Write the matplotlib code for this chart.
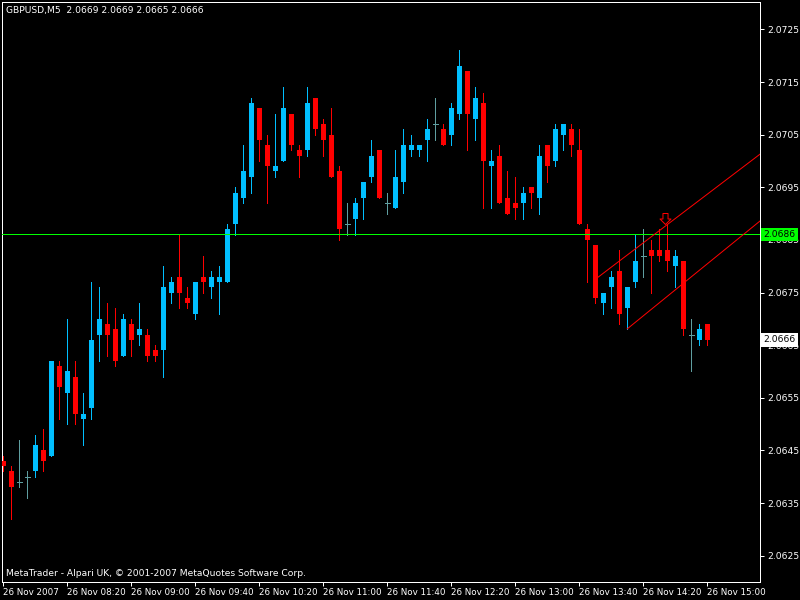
import matplotlib
matplotlib.use("Agg")
import matplotlib.pyplot as plt
import matplotlib.transforms as mtransforms
from matplotlib.path import Path
import numpy as np

# ---------------- data ----------------
symbol = "GBPUSD,M5"
copyright_text = "MetaTrader - Alpari UK, \u00a9 2001-2007 MetaQuotes Software Corp."

opens = [2.0643, 2.0641, 2.0639, 2.0640, 2.0641, 2.0645, 2.0644, 2.0661, 2.0656, 2.0659,
         2.0651, 2.0653, 2.0667, 2.0669, 2.0668, 2.0663, 2.0669, 2.0667, 2.0667, 2.0664,
         2.0664, 2.0675, 2.0678, 2.0674, 2.0671, 2.0678, 2.0676, 2.0677, 2.0677, 2.0688,
         2.0693, 2.0697, 2.0710, 2.0703, 2.0698, 2.0700, 2.0709, 2.0702, 2.0702, 2.0712,
         2.0707, 2.0705, 2.0698, 2.0688, 2.0689, 2.0693, 2.0697, 2.0702, 2.0692, 2.0691,
         2.0696, 2.0702, 2.0702, 2.0704, 2.0707, 2.0706, 2.0705, 2.0709, 2.0717, 2.0708,
         2.0711, 2.0699, 2.0701, 2.0693, 2.0692, 2.0692, 2.0695, 2.0693, 2.0703, 2.0700,
         2.0705, 2.0706, 2.0702, 2.0687, 2.0684, 2.0673, 2.0676, 2.0679, 2.0672, 2.0677,
         2.0682, 2.0683, 2.0683, 2.0683, 2.0680, 2.0681, 2.0667, 2.0666, 2.0669]
highs = [2.0644, 2.0642, 2.0647, 2.0641, 2.0648, 2.0649, 2.0662, 2.0662, 2.0670, 2.0662,
         2.0656, 2.0677, 2.0676, 2.0673, 2.0672, 2.0671, 2.0670, 2.0673, 2.0668, 2.0665,
         2.0680, 2.0678, 2.0686, 2.0676, 2.0677, 2.0682, 2.0679, 2.0680, 2.0688, 2.0695,
         2.0703, 2.0712, 2.0710, 2.0705, 2.0709, 2.0714, 2.0709, 2.0703, 2.0714, 2.0712,
         2.0708, 2.0710, 2.0699, 2.0692, 2.0693, 2.0696, 2.0704, 2.0702, 2.0694, 2.0702,
         2.0706, 2.0705, 2.0703, 2.0708, 2.0712, 2.0707, 2.0711, 2.0721, 2.0717, 2.0714,
         2.0713, 2.0702, 2.0703, 2.0698, 2.0697, 2.0695, 2.0695, 2.0703, 2.0703, 2.0707,
         2.0707, 2.0707, 2.0706, 2.0688, 2.0684, 2.0675, 2.0679, 2.0683, 2.0676, 2.0686,
         2.0687, 2.0685, 2.0687, 2.0688, 2.0683, 2.0681, 2.0670, 2.0669, 2.0669]
lows = [2.0641, 2.0632, 2.0638, 2.0636, 2.0640, 2.0641, 2.0644, 2.0651, 2.0650, 2.0650,
        2.0646, 2.0651, 2.0662, 2.0663, 2.0661, 2.0663, 2.0663, 2.0665, 2.0662, 2.0662,
        2.0659, 2.0673, 2.0672, 2.0672, 2.0670, 2.0675, 2.0674, 2.0671, 2.0677, 2.0686,
        2.0692, 2.0694, 2.0700, 2.0692, 2.0697, 2.0700, 2.0702, 2.0697, 2.0701, 2.0705,
        2.0701, 2.0697, 2.0685, 2.0686, 2.0686, 2.0689, 2.0696, 2.0693, 2.0690, 2.0691,
        2.0694, 2.0701, 2.0701, 2.0700, 2.0704, 2.0703, 2.0703, 2.0708, 2.0702, 2.0704,
        2.0691, 2.0691, 2.0692, 2.0690, 2.0689, 2.0689, 2.0691, 2.0690, 2.0696, 2.0699,
        2.0702, 2.0701, 2.0688, 2.0677, 2.0673, 2.0671, 2.0672, 2.0669, 2.0668, 2.0676,
        2.0678, 2.0675, 2.0681, 2.0679, 2.0676, 2.0667, 2.0660, 2.0665, 2.0665]
closes = [2.0642, 2.0638, 2.0639, 2.0640, 2.0646, 2.0643, 2.0662, 2.0657, 2.0660, 2.0652,
          2.0652, 2.0666, 2.0670, 2.0667, 2.0662, 2.0670, 2.0666, 2.0668, 2.0663, 2.0663,
          2.0676, 2.0677, 2.0675, 2.0673, 2.0677, 2.0677, 2.0678, 2.0678, 2.0687, 2.0694,
          2.0698, 2.0711, 2.0704, 2.0699, 2.0699, 2.0710, 2.0703, 2.0701, 2.0711, 2.0706,
          2.0704, 2.0697, 2.0687, 2.0688, 2.0692, 2.0696, 2.0701, 2.0693, 2.0692, 2.0697,
          2.0703, 2.0703, 2.0703, 2.0706, 2.0707, 2.0703, 2.0710, 2.0718, 2.0709, 2.0712,
          2.0700, 2.0700, 2.0692, 2.0690, 2.0691, 2.0694, 2.0694, 2.0701, 2.0699, 2.0706,
          2.0707, 2.0703, 2.0688, 2.0685, 2.0674, 2.0675, 2.0678, 2.0671, 2.0676, 2.0681,
          2.0682, 2.0682, 2.0682, 2.0681, 2.0682, 2.0668, 2.0667, 2.0668, 2.0666]

x_tick_labels = ["26 Nov 2007", "26 Nov 08:20", "26 Nov 09:00", "26 Nov 09:40",
                 "26 Nov 10:20", "26 Nov 11:00", "26 Nov 11:40", "26 Nov 12:20",
                 "26 Nov 13:00", "26 Nov 13:40", "26 Nov 14:20", "26 Nov 15:00"]
y_ticks = [2.0625, 2.0635, 2.0645, 2.0655, 2.0665, 2.0675, 2.0685, 2.0695, 2.0705,
           2.0715, 2.0725]

hline_price = 2.0686
sell_bar = 83
chan_upper_x = [74.25, 94.6]
chan_upper_y = [2.06778, 2.07013]
chan_lower_x = [78.0, 94.6]
chan_lower_y = [2.06681, 2.06886]

# ---------------- style ----------------
BULL = "#00BFFF"
BEAR = "#FF0000"
DOJI = "#5F9EA0"
FS = 6.3
body_w = 0.625
px = 0.72  # 1 pixel in points at dpi 100
YMIN, YMAX = 2.06200, 2.07302
AX_H_PX = 580

fig = plt.figure(figsize=(8, 6), dpi=100, facecolor="black")
ax = fig.add_axes([2 / 800, 18 / 600, 758 / 800, AX_H_PX / 600])
ax.set_facecolor("black")

o = np.array(opens); h = np.array(highs); l = np.array(lows); c = np.array(closes)
x = np.arange(len(o))
up = c > o
dn = c < o
dj = c == o

for mask, col in ((up, BULL), (dn, BEAR), (dj, DOJI)):
    ax.vlines(x[mask], l[mask], h[mask], color=col, lw=px, antialiased=False, zorder=2)
for mask, col in ((up, BULL), (dn, BEAR)):
    bottoms = np.minimum(o, c)[mask]
    heights = np.abs(c - o)[mask]
    ax.bar(x[mask], heights, bottom=bottoms, width=body_w, color=col,
           linewidth=0, antialiased=False, zorder=3)
ax.hlines(c[dj], x[dj] - body_w / 2, x[dj] + body_w / 2, color=DOJI, lw=px,
          antialiased=False, zorder=3)

# horizontal line (1 pixel tall solid band)
half_px = (YMAX - YMIN) / AX_H_PX / 2
ax.axhspan(hline_price - half_px, hline_price + half_px, color="#00FF00",
           linewidth=0, antialiased=False, zorder=4)

# channel rays
xmax = 94.59
for xs, ys in ((chan_upper_x, chan_upper_y), (chan_lower_x, chan_lower_y)):
    ax.plot(xs, ys, color="#FF0000", lw=px, antialiased=True, zorder=4)

# sell arrow above bar
arrow = Path([(-0.23, 1.0), (0.23, 1.0), (0.23, 0.5), (0.5, 0.5), (0.0, 0.0),
              (-0.5, 0.5), (-0.23, 0.5), (-0.23, 1.0)],
             [Path.MOVETO] + [Path.LINETO] * 6 + [Path.CLOSEPOLY])
ax.plot([sell_bar - 0.25], [highs[sell_bar]], marker=arrow, markersize=22 * px,
        markerfacecolor="none", markeredgecolor="#FF0000", markeredgewidth=px,
        linestyle="none", zorder=5)

ax.set_xlim(-0.1625, xmax)
ax.set_ylim(YMIN, YMAX)

for s in ax.spines.values():
    s.set_color("white")
    s.set_linewidth(px)

ax.yaxis.tick_right()
ax.set_yticks(y_ticks)
ax.set_yticklabels([f"{v:.4f}" for v in y_ticks])
ax.set_xticks(list(range(0, len(o), 8)))
ax.set_xticklabels(x_tick_labels)
for t in ax.get_xticklabels():
    t.set_horizontalalignment("left")
ax.tick_params(axis="y", colors="white", length=3, width=px, labelsize=FS + 0.3, pad=2)
ax.tick_params(axis="x", colors="white", length=3, width=px, labelsize=FS, pad=1.5)

# price labels on axis
trans = mtransforms.blended_transform_factory(ax.transAxes, ax.transData)
ax.text(1.0045, hline_price, f"{hline_price:.4f}", transform=trans, ha="left",
        va="center", fontsize=FS + 0.3, color="black", clip_on=False, zorder=10,
        bbox=dict(boxstyle="square,pad=0.25", fc="#00FF00", ec="none"))
ax.text(1.0045, closes[-1], f"{closes[-1]:.4f}", transform=trans, ha="left",
        va="center", fontsize=FS + 0.3, color="black", clip_on=False, zorder=10,
        bbox=dict(boxstyle="square,pad=0.25", fc="white", ec="none"))

fig.text(6 / 800, 1 - 10 / 600,
         f"{symbol}  {opens[-1]:.4f} {highs[-1]:.4f} {lows[-1]:.4f} {closes[-1]:.4f}",
         color="white", fontsize=FS + 0.3, ha="left", va="center")
fig.text(6 / 800, 1 - 574 / 600, copyright_text, color="white", fontsize=FS + 0.3,
         ha="left", va="center")

fig.savefig("out.png", dpi=100, facecolor="black")
